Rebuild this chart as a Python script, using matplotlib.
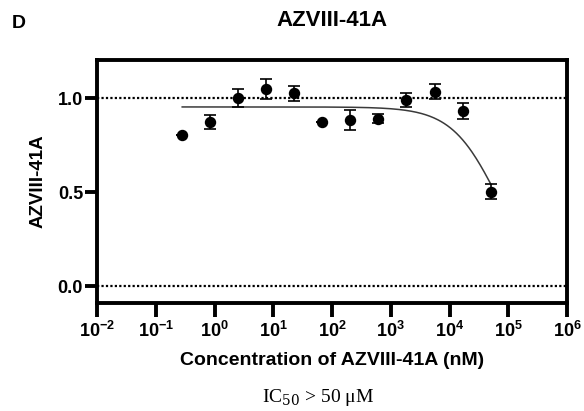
import numpy as np
import matplotlib
matplotlib.use("Agg")
import matplotlib.pyplot as plt

plt.rcParams['font.family'] = ['Liberation Sans', 'DejaVu Sans']
plt.rcParams['mathtext.fontset'] = 'custom'
plt.rcParams['mathtext.rm'] = 'Liberation Sans:bold'
plt.rcParams['mathtext.bf'] = 'Liberation Sans:bold'
plt.rcParams['mathtext.it'] = 'Liberation Sans:bold'

# ---- data ----
conc_nM = [0.282, 0.847, 2.54, 7.62, 22.9, 68.6, 206, 617, 1852, 5556, 16667, 50000]
response = [0.805, 0.875, 1.000, 1.048, 1.027, 0.872, 0.884, 0.891, 0.991, 1.034, 0.931, 0.502]
err = [0.0, 0.037, 0.048, 0.053, 0.040, 0.0, 0.053, 0.025, 0.035, 0.040, 0.042, 0.040]

# fitted curve parameters (4PL)
fit_top = 0.954
fit_bottom = 0.0
fit_ic50 = 65000.0
fit_hill = 1.1

xtick_vals = [1e-2, 1e-1, 1e0, 1e1, 1e2, 1e3, 1e4, 1e5, 1e6]
xtick_labels = [r'$\mathbf{10^{-2}}$', r'$\mathbf{10^{-1}}$', r'$\mathbf{10^{0}}$', r'$\mathbf{10^{1}}$',
                r'$\mathbf{10^{2}}$', r'$\mathbf{10^{3}}$', r'$\mathbf{10^{4}}$', r'$\mathbf{10^{5}}$',
                r'$\mathbf{10^{6}}$']
ytick_vals = [0.0, 0.5, 1.0]
ytick_labels = ['0.0', '0.5', '1.0']
ref_lines = [0.0, 1.0]

title = 'AZVIII-41A'
ylabel = 'AZVIII-41A'
xlabel = 'Concentration of AZVIII-41A (nM)'
panel = 'D'

# ---- figure ----
W, H = 584, 411
fig = plt.figure(figsize=(W / 100, H / 100), dpi=100)
left, right, top, bottom = 97, 567, 60, 303
ax = fig.add_axes([left / W, 1 - bottom / H, (right - left) / W, (bottom - top) / H])

ax.set_xscale('log')
ax.set_xlim(1e-2, 1e6)
ax.set_ylim(-0.09, 1.204)

for yv in ref_lines:
    ax.axhline(yv, color='black', lw=1.6, linestyle=(0, (1, 1)), zorder=1)

xc = np.logspace(np.log10(conc_nM[0]), np.log10(conc_nM[-1]), 300)
yc = fit_bottom + (fit_top - fit_bottom) / (1 + (xc / fit_ic50) ** fit_hill)
ax.plot(xc, yc, color='#3a3a3a', lw=1.1, zorder=2)

ax.errorbar(conc_nM, response, yerr=err, fmt='o', color='black', markersize=7.2,
            ecolor='black', elinewidth=1.2, capsize=4, capthick=1.2, zorder=3)

for s in ax.spines.values():
    s.set_linewidth(2.8)
ax.set_xticks(xtick_vals)
ax.set_xticklabels(xtick_labels)
ax.xaxis.set_minor_locator(matplotlib.ticker.NullLocator())
ax.set_yticks(ytick_vals)
ax.set_yticklabels(ytick_labels, fontweight='bold')
ax.tick_params(axis='x', direction='out', length=10, width=2.8, labelsize=13, pad=3)
ax.tick_params(axis='y', direction='out', length=8.5, width=2.8, labelsize=13, pad=1.5)

ax.set_ylabel(ylabel, fontsize=13.5, fontweight='bold', labelpad=8)
fig.text(332 / W, 1 - 360 / H, xlabel, fontsize=14, fontweight='bold', ha='center', va='center')
fig.text(332 / W, 1 - 21 / H, title, fontsize=16, fontweight='bold', ha='center', va='center')
fig.text(19 / W, 1 - 24 / H, panel, fontsize=14, fontweight='bold', ha='center', va='center')
fig.text(318 / W, 1 - 397 / H, r'IC$_{50}$ > 50 μM', fontsize=14, ha='center', va='center',
         family=['Liberation Serif', 'DejaVu Serif'], math_fontfamily='dejavuserif')

fig.savefig('out.png', dpi=100)
